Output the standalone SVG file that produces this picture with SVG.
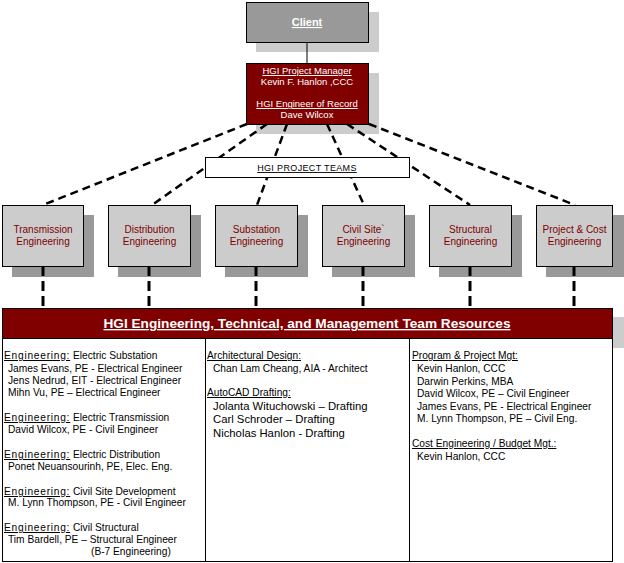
<svg xmlns="http://www.w3.org/2000/svg" width="624" height="563" viewBox="0 0 624 563">
<style>
text{font-family:"Liberation Sans",Arial,sans-serif;}
.sh1{fill:#cccccc;}
.sh2{fill:#999999;}
.box{stroke:#000;stroke-width:1;}
.team{fill:#cccccc;stroke:#000;stroke-width:1;}
.tl{font-size:10px;fill:#800000;text-anchor:middle;}
.wt{fill:#fff;text-anchor:middle;font-size:9.5px;}
.dash{stroke:#000;stroke-width:2.5;stroke-dasharray:8 5;fill:none;}
.vd{stroke:#000;stroke-width:3;stroke-dasharray:10 5;fill:none;}
.c{font-size:10.2px;fill:#000;}
.c2{font-size:11.3px;fill:#000;}
.u{text-decoration:underline;}
.eng{text-decoration:underline;letter-spacing:0.75px;}
</style>
<g id="client">
<rect class="sh1" x="256" y="12" width="123" height="40"/>
<rect class="box" x="246.5" y="2.5" width="122" height="40" fill="#999999"/>
<text class="u" x="307" y="26" fill="#fff" text-anchor="middle" font-size="11" font-weight="bold">Client</text>
</g>
<g id="manager">
<rect class="sh1" x="256" y="73" width="123" height="61"/>
<rect class="box" x="246.5" y="63.5" width="122" height="61" fill="#800000"/>
<text class="wt u" x="307" y="74">HGI Project Manager</text>
<text class="wt" x="307" y="85">Kevin F. Hanlon ,CCC</text>
<text class="wt u" x="307" y="107">HGI Engineer of Record</text>
<text class="wt" x="307" y="118">Dave Wilcox</text>
</g>
<g id="transmission">
<rect class="sh2" x="12" y="215" width="82" height="62"/>
<rect class="team" x="2.5" y="205.5" width="81" height="61"/>
<text class="tl" x="43" y="233">Transmission</text>
<text class="tl" x="43" y="245">Engineering</text>
</g>
<g id="distribution">
<rect class="sh2" x="118" y="215" width="83" height="62"/>
<rect class="team" x="108.5" y="205.5" width="82" height="61"/>
<text class="tl" x="149.5" y="233">Distribution</text>
<text class="tl" x="149.5" y="245">Engineering</text>
</g>
<g id="substation">
<rect class="sh2" x="225" y="215" width="83" height="62"/>
<rect class="team" x="215.5" y="205.5" width="82" height="61"/>
<text class="tl" x="256.5" y="233">Substation</text>
<text class="tl" x="256.5" y="245">Engineering</text>
</g>
<g id="civil">
<rect class="sh2" x="332" y="215" width="83" height="62"/>
<rect class="team" x="322.5" y="205.5" width="82" height="61"/>
<text class="tl" x="363.5" y="233">Civil Site`</text>
<text class="tl" x="363.5" y="245">Engineering</text>
</g>
<g id="structural">
<rect class="sh2" x="439" y="215" width="83" height="62"/>
<rect class="team" x="429.5" y="205.5" width="82" height="61"/>
<text class="tl" x="470.5" y="233">Structural</text>
<text class="tl" x="470.5" y="245">Engineering</text>
</g>
<g id="projectcost">
<rect class="sh2" x="546" y="215" width="78" height="62"/>
<rect class="team" x="536.5" y="205.5" width="76" height="61"/>
<text class="tl" x="574.5" y="233">Project &amp; Cost</text>
<text class="tl" x="574.5" y="245">Engineering</text>
</g>
<g id="connectors">
<line x1="307" y1="42" x2="307" y2="63" stroke="#000" stroke-width="1"/>
<line class="dash" x1="247" y1="124" x2="43" y2="205"/>
<line class="dash" x1="267" y1="124" x2="152" y2="205"/>
<line class="dash" x1="287" y1="124" x2="257" y2="205"/>
<line class="dash" x1="327" y1="124" x2="364" y2="205"/>
<line class="dash" x1="347" y1="124" x2="470" y2="205"/>
<line class="dash" x1="369" y1="124" x2="575" y2="205"/>
<line class="vd" x1="43" y1="266" x2="43" y2="308"/>
<line class="vd" x1="149" y1="266" x2="149" y2="308"/>
<line class="vd" x1="256" y1="266" x2="256" y2="308"/>
<line class="vd" x1="363" y1="266" x2="363" y2="308"/>
<line class="vd" x1="470" y1="266" x2="470" y2="308"/>
<line class="vd" x1="574" y1="266" x2="574" y2="308"/>
</g>
<g id="teams">
<rect x="205.5" y="157.5" width="204" height="20" fill="#fff" stroke="#000"/>
<text class="u" x="307" y="171" text-anchor="middle" font-size="9" letter-spacing="0.35">HGI PROJECT TEAMS</text>
</g>
<g id="resources">
<rect class="sh1" x="612" y="317" width="12" height="31"/>
<rect x="2.5" y="308.5" width="610" height="30" fill="#800000" stroke="#000"/>
<text class="u" x="307" y="328" fill="#fff" text-anchor="middle" font-size="13.5" font-weight="bold" textLength="407" lengthAdjust="spacingAndGlyphs">HGI Engineering, Technical, and Management Team Resources</text>
<rect x="2.5" y="338.5" width="610" height="223" fill="#fff" stroke="#000"/>
<line x1="205.5" y1="338" x2="205.5" y2="562" stroke="#000"/>
<line x1="409.5" y1="338" x2="409.5" y2="562" stroke="#000"/>
</g>
<g id="col1">
<text class="c" x="4" y="359"><tspan class="eng">Engineering:</tspan><tspan x="73">Electric Substation</tspan></text>
<text class="c" x="8" y="372">James Evans, PE - Electrical Engineer</text>
<text class="c" x="8" y="384">Jens Nedrud, EIT - Electrical Engineer</text>
<text class="c" x="8" y="396">Mihn Vu, PE – Electrical Engineer</text>
<text class="c" x="4" y="421"><tspan class="eng">Engineering:</tspan><tspan x="73">Electric Transmission</tspan></text>
<text class="c" x="8" y="433">David Wilcox, PE -  Civil Engineer</text>
<text class="c" x="4" y="458"><tspan class="eng">Engineering:</tspan><tspan x="73">Electric Distribution</tspan></text>
<text class="c" x="8" y="470">Ponet Neuansourinh, PE, Elec. Eng.</text>
<text class="c" x="4" y="495"><tspan class="eng">Engineering:</tspan><tspan x="73">Civil Site Development</tspan></text>
<text class="c" x="8" y="506">M. Lynn Thompson, PE - Civil Engineer</text>
<text class="c" x="4" y="531"><tspan class="eng">Engineering:</tspan><tspan x="73">Civil Structural</tspan></text>
<text class="c" x="8" y="543">Tim Bardell, PE – Structural Engineer</text>
<text class="c" x="91" y="555">(B-7 Engineering)</text>
</g>
<g id="col2">
<text class="c u" x="207" y="359">Architectural Design:</text>
<text class="c" x="213" y="372">Chan Lam Cheang, AIA -  Architect</text>
<text class="c u" x="207" y="396">AutoCAD Drafting:</text>
<text class="c2" x="213" y="410">Jolanta Wituchowski – Drafting</text>
<text class="c2" x="213" y="423">Carl Schroder – Drafting</text>
<text class="c2" x="213" y="437">Nicholas Hanlon - Drafting</text>
</g>
<g id="col3">
<text class="c u" x="412" y="359">Program &amp; Project Mgt:</text>
<text class="c" x="417" y="372">Kevin Hanlon, CCC</text>
<text class="c" x="417" y="385">Darwin Perkins, MBA</text>
<text class="c" x="417" y="397">David Wilcox, PE – Civil Engineer</text>
<text class="c" x="417" y="410">James Evans, PE - Electrical Engineer</text>
<text class="c" x="417" y="422">M. Lynn Thompson, PE – Civil Eng.</text>
<text class="c u" x="412" y="447">Cost Engineering / Budget Mgt.:</text>
<text class="c" x="417" y="460">Kevin Hanlon, CCC</text>
</g>
</svg>
